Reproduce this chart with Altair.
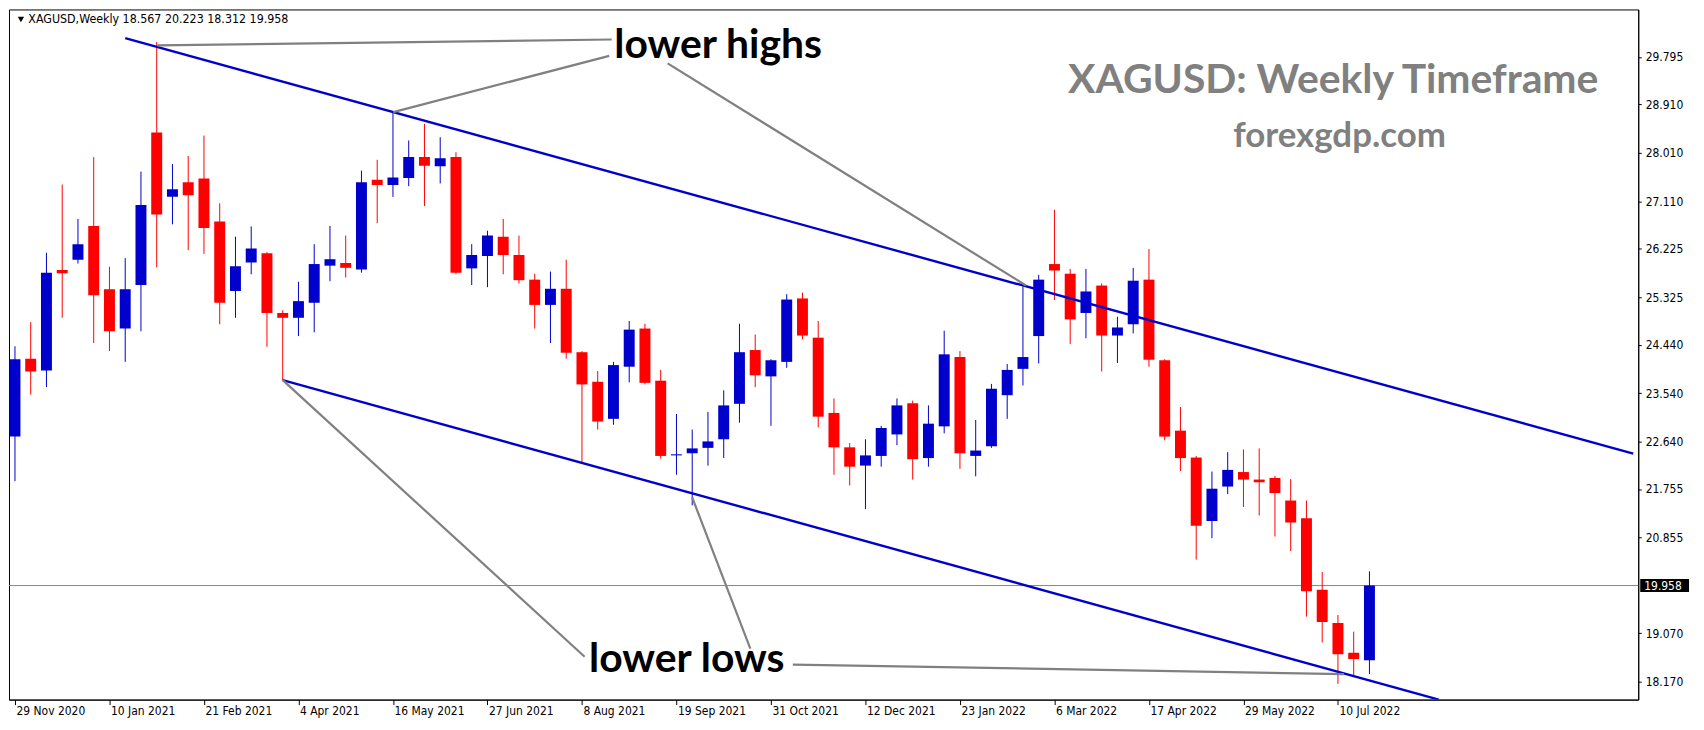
import altair as alt
import pandas as pd
from datetime import datetime

# ---------------- data ----------------
dates = [
    "2020-11-29", "2020-12-06", "2020-12-13", "2020-12-20", "2020-12-27",
    "2021-01-03", "2021-01-10", "2021-01-17", "2021-01-24", "2021-01-31",
    "2021-02-07", "2021-02-14", "2021-02-21", "2021-02-28", "2021-03-07",
    "2021-03-14", "2021-03-21", "2021-03-28", "2021-04-04", "2021-04-11",
    "2021-04-18", "2021-04-25", "2021-05-02", "2021-05-09", "2021-05-16",
    "2021-05-23", "2021-05-30", "2021-06-06", "2021-06-13", "2021-06-20",
    "2021-06-27", "2021-07-04", "2021-07-11", "2021-07-18", "2021-07-25",
    "2021-08-01", "2021-08-08", "2021-08-15", "2021-08-22", "2021-08-29",
    "2021-09-05", "2021-09-12", "2021-09-19", "2021-09-26", "2021-10-03",
    "2021-10-10", "2021-10-17", "2021-10-24", "2021-10-31", "2021-11-07",
    "2021-11-14", "2021-11-21", "2021-11-28", "2021-12-05", "2021-12-12",
    "2021-12-19", "2021-12-26", "2022-01-02", "2022-01-09", "2022-01-16",
    "2022-01-23", "2022-01-30", "2022-02-06", "2022-02-13", "2022-02-20",
    "2022-02-27", "2022-03-06", "2022-03-13", "2022-03-20", "2022-03-27",
    "2022-04-03", "2022-04-10", "2022-04-17", "2022-04-24", "2022-05-01",
    "2022-05-08", "2022-05-15", "2022-05-22", "2022-05-29", "2022-06-05",
    "2022-06-12", "2022-06-19", "2022-06-26", "2022-07-03", "2022-07-10",
    "2022-07-17", "2022-07-24",
]

opens = [
    22.73, 24.18, 23.96, 25.83, 26.02, 26.65, 25.47, 24.74, 25.55, 28.39,
    27.19, 27.46, 27.53, 26.73, 25.44, 25.97, 26.14, 25.03, 24.94, 25.22,
    25.91, 25.96, 25.84, 27.51, 27.41, 27.54, 27.93, 27.76, 27.93, 25.86,
    26.09, 26.45, 26.11, 25.65, 25.18, 25.48, 24.30, 23.75, 23.06, 24.03,
    24.74, 23.77, 22.38, 22.42, 22.52, 22.68, 23.34, 24.34, 23.85, 24.12,
    25.30, 24.57, 23.17, 22.53, 22.19, 22.37, 22.77, 23.35, 22.33, 22.92,
    24.21, 22.37, 22.55, 23.50, 23.99, 24.60, 25.94, 25.76, 25.03, 25.54,
    24.61, 24.82, 25.65, 24.15, 22.84, 22.34, 21.16, 21.80, 22.07, 21.93,
    21.96, 21.54, 21.21, 19.88, 19.26, 18.71, 18.567,
]
highs = [
    24.41, 24.86, 26.15, 27.42, 26.78, 27.93, 25.89, 26.05, 27.66, 30.07,
    27.80, 27.95, 28.33, 27.07, 26.45, 26.64, 26.16, 25.08, 25.61, 26.31,
    26.65, 26.47, 27.68, 27.88, 28.77, 28.24, 28.55, 28.30, 28.02, 26.31,
    26.56, 26.78, 26.47, 25.76, 25.80, 26.02, 24.32, 23.95, 24.12, 24.88,
    24.83, 23.97, 23.15, 22.86, 23.19, 23.59, 24.83, 24.63, 24.17, 25.38,
    25.41, 24.88, 23.44, 22.61, 22.68, 22.93, 23.44, 23.40, 23.31, 24.70,
    24.32, 23.04, 23.71, 24.08, 25.52, 25.74, 26.95, 25.85, 25.85, 25.58,
    24.96, 25.87, 26.22, 24.17, 23.28, 22.37, 22.08, 22.44, 22.49, 22.51,
    22.00, 21.94, 21.54, 20.21, 19.41, 19.10, 20.223,
]
lows = [
    21.90, 23.51, 23.65, 24.94, 25.95, 24.47, 24.32, 24.12, 24.69, 25.88,
    26.68, 26.20, 26.13, 24.82, 24.94, 25.75, 24.40, 23.78, 24.60, 24.67,
    25.62, 25.69, 25.78, 26.70, 27.19, 27.39, 27.02, 27.44, 25.75, 25.55,
    25.51, 25.75, 25.58, 24.74, 24.47, 24.18, 22.24, 22.86, 22.95, 23.74,
    23.70, 22.32, 22.02, 21.45, 22.19, 22.33, 22.99, 23.65, 22.93, 24.01,
    24.54, 22.90, 22.02, 21.82, 21.38, 22.17, 22.57, 21.93, 22.17, 22.79,
    22.13, 21.99, 22.52, 23.06, 23.68, 24.09, 25.27, 24.45, 24.56, 23.94,
    24.10, 24.65, 24.03, 22.66, 22.09, 20.44, 20.84, 21.66, 21.42, 21.26,
    20.87, 20.60, 19.38, 18.90, 18.13, 18.28, 18.312,
]
closes = [
    24.17, 23.94, 25.78, 25.77, 26.31, 25.36, 24.69, 25.47, 27.04, 26.86,
    27.33, 27.22, 26.61, 25.22, 25.90, 26.23, 25.03, 24.94, 25.25, 25.94,
    26.03, 25.87, 27.46, 27.41, 27.55, 27.93, 27.77, 27.91, 25.78, 26.11,
    26.47, 26.11, 25.64, 25.18, 25.48, 24.29, 23.70, 23.01, 24.06, 24.72,
    23.73, 22.37, 22.40, 22.51, 22.64, 23.31, 24.30, 23.87, 24.15, 25.28,
    24.61, 23.10, 22.53, 22.17, 22.38, 22.89, 23.31, 22.31, 22.97, 24.26,
    22.42, 22.47, 23.62, 23.97, 24.21, 25.65, 25.82, 24.91, 25.43, 24.61,
    24.76, 25.63, 24.16, 22.73, 22.33, 21.07, 21.76, 22.11, 21.93, 21.88,
    21.68, 21.13, 19.85, 19.28, 18.68, 18.59, 19.958,
]

x_tick_labels = [
    "29 Nov 2020", "10 Jan 2021", "21 Feb 2021", "4 Apr 2021", "16 May 2021",
    "27 Jun 2021", "8 Aug 2021", "19 Sep 2021", "31 Oct 2021", "12 Dec 2021",
    "23 Jan 2022", "6 Mar 2022", "17 Apr 2022", "29 May 2022", "10 Jul 2022",
]
y_tick_values = [18.170, 19.070, 20.855, 21.755, 22.640, 23.540, 24.440,
                 25.325, 26.225, 27.110, 28.010, 28.910, 29.795]

# trend channel anchors (week offset from first candle, price)
upper_line_week = [7.0, 102.75]
upper_line_price = [30.142, 22.413]
lower_line_week = [17.0, 90.4]
lower_line_price = [23.78, 17.836]

# gray pointer segments
pointer_seg = [1, 1, 2, 2, 3, 3, 4, 4, 5, 5, 6, 6]
pointer_week = [9.04, 37.89, 24.02, 37.73, 41.44, 64.19,
                17.02, 36.17, 43.0, 46.69, 49.39, 84.38]
pointer_price = [30.01, 30.118, 28.767, 29.813, 29.673, 25.541,
                 23.775, 18.634, 21.597, 18.785, 18.488, 18.311]

label_text = ["lower highs", "lower lows"]
label_week = [38.05, 36.45]
label_price = [29.782, 18.342]

title_text = ["XAGUSD: Weekly Timeframe", "forexgdp.com"]
title_week = [83.7, 84.1]
title_price = [29.132, 28.110]
title_size = [41, 35]

symbol_name = "XAGUSD,Weekly"

# ---------------- frames ----------------
d = pd.to_datetime(pd.Series(dates))
d0 = d.iloc[0]
candles = pd.DataFrame({
    "date": dates,
    "w": ((d - d0).dt.days // 7).astype(float),
    "open": opens, "high": highs, "low": lows, "close": closes,
})
candles["dir"] = ["up" if c >= o else "down" for o, c in zip(opens, closes)]

tick_pos = [int((pd.Timestamp(datetime.strptime(s, "%d %b %Y")) - d0).days // 7)
            for s in x_tick_labels]
label_expr = ("[" + ",".join("'%s'" % s for s in x_tick_labels) + "]"
              "[indexof([" + ",".join(str(p) for p in tick_pos) + "], datum.value)]")

W, H = 1636, 693
SMALL_FONT = "DejaVu Sans Condensed, DejaVu Sans"
xs = alt.Scale(domain=[-0.0625, 102.75], nice=False, zero=False)
ys = alt.Scale(domain=[17.836, 30.677], nice=False, zero=False)
BLUE = "#0000CD"
RED = "#FF0000"
col = alt.Color("dir:N", scale=alt.Scale(domain=["up", "down"], range=[BLUE, RED]), legend=None)

x_axis = alt.Axis(values=tick_pos, labelExpr=label_expr, labelAlign="left", labelOffset=1,
                  labelBaseline="top", labelPadding=1, tickSize=5, labelOverlap=False,
                  labelFlush=False, labelBound=False, title=None, domain=True, grid=False)
y_axis = alt.Axis(values=y_tick_values, format=".3f", orient="right", tickSize=3,
                  labelPadding=4, labelOverlap=False, labelFlush=False, title=None, grid=False)


def X(field):
    return alt.X(field, scale=xs, axis=x_axis)


def Y(field):
    return alt.Y(field, scale=ys, axis=y_axis)


last_close = closes[-1]
price_df = pd.DataFrame({"p": [last_close], "txt": ["%.3f" % last_close]})

price_line = alt.Chart(price_df).mark_rule(color="#778899", strokeWidth=1).encode(
    y=Y("p:Q"))

wicks = alt.Chart(candles).mark_rule(strokeWidth=1, clip=True).encode(
    x=X("w:Q"), y=Y("low:Q"), y2="high:Q", color=col,
)
bodies = alt.Chart(candles).mark_bar(size=11, clip=True).encode(
    x=X("w:Q"), y=Y("open:Q"), y2="close:Q", color=col,
)

chan_df = pd.concat([
    pd.DataFrame({"seg": "upper", "w": upper_line_week, "p": upper_line_price}),
    pd.DataFrame({"seg": "lower", "w": lower_line_week, "p": lower_line_price}),
])
channel = alt.Chart(chan_df).mark_line(color=BLUE, strokeWidth=2.4, clip=True).encode(
    x=X("w:Q"), y=Y("p:Q"), detail="seg:N",
)

ptr_df = pd.DataFrame({"seg": pointer_seg, "w": pointer_week, "p": pointer_price,
                       "ord": list(range(len(pointer_seg)))})
pointers = alt.Chart(ptr_df).mark_line(color="#808080", strokeWidth=2.2, clip=True).encode(
    x=X("w:Q"), y=Y("p:Q"), detail="seg:N", order="ord:Q",
)

lab_df = pd.DataFrame({"t": label_text, "w": label_week, "p": label_price})
labels = alt.Chart(lab_df).mark_text(font="Lato", fontWeight="bold", fontSize=41,
                                     align="left", baseline="alphabetic", color="black").encode(
    x=X("w:Q"), y=Y("p:Q"), text="t:N",
)

ttl_df = pd.DataFrame({"t": title_text, "w": title_week, "p": title_price, "s": title_size})
titles = alt.Chart(ttl_df).mark_text(font="Lato", fontWeight="bold", align="center",
                                     baseline="alphabetic", color="#808080").encode(
    x=X("w:Q"), y=Y("p:Q"), text="t:N",
    size=alt.Size("s:Q", scale=None, legend=None),
)

hdr_txt = "%s  %.3f %.3f %.3f %.3f" % (symbol_name, opens[-1], highs[-1], lows[-1], closes[-1])
hdr_df = pd.DataFrame({"t": [hdr_txt], "w": [0.85], "p": [30.421]})
header = alt.Chart(hdr_df).mark_text(font=SMALL_FONT, fontSize=12.4, align="left",
                                     baseline="alphabetic", color="black").encode(
    x=X("w:Q"), y=Y("p:Q"), text="t:N",
)
tri_df = pd.DataFrame({"w": [0.38], "p": [30.49]})
tri = alt.Chart(tri_df).mark_point(shape="triangle-down", filled=True, color="black",
                                   size=40, opacity=1).encode(
    x=X("w:Q"), y=Y("p:Q"),
)

price_box = alt.Chart(price_df).mark_rule(color="black", strokeWidth=13, strokeCap="butt").encode(
    x=alt.value(W + 2), x2=alt.value(W + 51), y=Y("p:Q"),
)
price_txt = alt.Chart(price_df).mark_text(font=SMALL_FONT, fontSize=12, align="left",
                                          baseline="middle", color="white").encode(
    x=alt.value(W + 6), y=Y("p:Q"), text="txt:N",
)

chart = alt.layer(
    price_line, wicks, bodies, channel, pointers, labels, titles, header, tri,
    price_box, price_txt,
).properties(
    width=W, height=H, padding=0, background="white",
).configure_view(
    stroke="black", strokeWidth=1,
).configure_axis(
    grid=False, domainColor="black", tickColor="black", labelColor="black",
    labelFont=SMALL_FONT, labelFontSize=12, domainWidth=1, tickWidth=1,
)

chart.save("out.html", embed_options={"renderer": "svg", "actions": False})
